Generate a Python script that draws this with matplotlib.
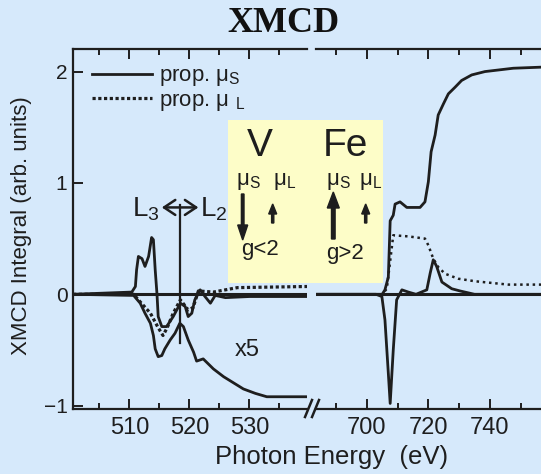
import numpy as np
import matplotlib
matplotlib.use("Agg")
import matplotlib.pyplot as plt
from matplotlib.patches import Rectangle, FancyArrow
from matplotlib.lines import Line2D

plt.rcParams['font.family'] = ['Liberation Sans', 'DejaVu Sans']
plt.rcParams['mathtext.fontset'] = 'custom'
plt.rcParams['mathtext.rm'] = 'Liberation Sans'
plt.rcParams['mathtext.it'] = 'Liberation Sans:italic'
plt.rcParams['mathtext.bf'] = 'Liberation Sans:bold'

# V L-edge (x5), left part of the broken axis
v_e_spec = [500.6, 510.4, 511.0, 511.2, 511.5, 512.1, 512.6, 513.2, 513.7, 514.0, 514.3, 514.6,
            514.8, 515.4, 516.2, 517.3, 518.5, 519.3, 519.8, 520.4, 520.9, 521.8, 522.6, 523.5,
            524.3, 526.0, 530.0, 539.6]
v_spec = [0, 0.02, 0.07, 0.22, 0.34, 0.32, 0.25, 0.34, 0.51, 0.49, 0.22, 0.0,
          -0.2, -0.29, -0.29, -0.2, -0.08, -0.11, -0.2, -0.17, -0.05, 0.04, -0.02, -0.08,
          -0.01, -0.03, -0.02, -0.02]

v_e_int = [500.6, 510.7, 511.8, 512.6, 513.5, 514.0, 514.3, 514.8, 515.4, 515.9, 516.8, 517.6,
           518.4, 519.0, 519.8, 520.7, 521.2, 522.3, 524.0, 525.7, 527.5, 529.0, 531.0, 532.9, 539.6]
v_int = [0, -0.01, -0.08, -0.17, -0.26, -0.37, -0.49, -0.56, -0.55, -0.49, -0.41, -0.35,
         -0.26, -0.29, -0.41, -0.52, -0.60, -0.58, -0.67, -0.74, -0.80, -0.85, -0.89, -0.92, -0.92]

v_e_orb = [500.6, 510.7, 511.5, 513.5, 514.8, 515.6, 516.3, 517.3, 518.5, 519.8, 520.6, 521.5,
           524.0, 528.0, 539.6]
v_orb = [0, 0, -0.05, -0.17, -0.3, -0.37, -0.3, -0.17, -0.05, -0.14, -0.12, 0.03,
         0.02, 0.06, 0.07]

# Fe L-edge, right part of the broken axis
fe_e_step = [684, 700, 705, 705.9, 707.0, 707.6, 708.6, 709.2, 710.8, 713.0, 717.3, 718.9, 720.0,
             720.9, 722.2, 723.2, 724.9, 726.5, 728.7, 730.8, 734.1, 738.4, 747.6, 757]
fe_step = [0, 0, 0, 0.04, 0.155, 0.66, 0.71, 0.81, 0.83, 0.78, 0.78, 0.83, 1.01,
           1.28, 1.43, 1.61, 1.71, 1.80, 1.86, 1.92, 1.97, 2.00, 2.03, 2.04]

fe_e_spec = [684, 703, 704.9, 705.9, 707.0, 707.6, 708.6, 709.7, 711.4, 713.5, 716, 719.5, 720.6,
             721.6, 722.7, 724.4, 727.6, 730.3, 735, 757]
fe_spec = [0, 0, -0.02, -0.23, -0.71, -0.98, -0.5, -0.05, 0.04, 0.02, 0.0, 0.04, 0.19,
           0.31, 0.25, 0.11, 0.05, 0.03, 0.0, 0.0]

fe_e_orb = [684, 705, 706.5, 707.6, 708.6, 713.5, 718.9, 720, 721.6, 723.2, 725.4, 729.7, 735.2,
            746, 757]
fe_orb = [0, 0, 0.05, 0.3, 0.53, 0.52, 0.50, 0.44, 0.32, 0.245, 0.185, 0.14, 0.117, 0.087, 0.087]

bg = '#d6e9fb'
ink = '#1e1e1e'
W, H = 541, 474

fig = plt.figure(figsize=(W / 100, H / 100), dpi=100, facecolor=bg)

def px(x0, y0, x1, y1):
    # image pixel box -> figure fraction rect
    return [x0 / W, 1 - y1 / H, (x1 - x0) / W, (y1 - y0) / H]

ax1 = fig.add_axes(px(73, 49.3, 307, 409))
ax2 = fig.add_axes(px(316, 49.3, 541, 409))
ylim = (-1.03, 2.2)

for ax in (ax1, ax2):
    ax.set_facecolor(bg)
    ax.set_ylim(*ylim)
    ax.axhline(0, color=ink, lw=2.2, zorder=1)
    for s in ax.spines.values():
        s.set_linewidth(1.6)
        s.set_color(ink)
    ax.tick_params(which='both', direction='in', top=True, colors=ink, width=1.4)
    ax.tick_params(which='major', length=7)
    ax.tick_params(which='minor', length=4)
    ax.tick_params(axis='x', labelsize=17, pad=6)

ax1.set_xlim(500.6, 539.6)
ax1.set_xticks([510, 520, 530])
ax1.set_xticks([505, 515, 525, 535], minor=True)
ax1.set_yticks([-1, 0, 1, 2])
ax1.tick_params(axis='y', labelsize=15, pad=4, right=False)
ax1.spines['right'].set_visible(False)

ax2.set_xlim(683.5, 756.6)
ax2.set_xticks([700, 720, 740])
ax2.set_xticks([690, 710, 730, 750], minor=True)
ax2.tick_params(axis='y', left=False, right=False, labelleft=False)
ax2.spines['left'].set_visible(False)
ax2.spines['right'].set_visible(False)

# left (V) curves
ax1.plot(v_e_spec, v_spec, color=ink, lw=2.0)
ax1.plot(v_e_int, v_int, color=ink, lw=2.0, label='prop. μ$_\\mathrm{S}$')
ax1.plot(v_e_orb, v_orb, color=ink, lw=2.3, ls=(0, (1, 0.8)), label='prop. μ $_\\mathrm{L}$')

# right (Fe) curves
ax2.plot(fe_e_spec, fe_spec, color=ink, lw=2.0)
ax2.plot(fe_e_step, fe_step, color=ink, lw=2.0)
ax2.plot(fe_e_orb, fe_orb, color=ink, lw=1.8, ls=(0, (1, 1.5)))

leg = ax1.legend(loc='upper left', bbox_to_anchor=(0.08, 0.955), frameon=False,
                 fontsize=16, handlelength=2.7, handletextpad=0.35, labelspacing=0.05,
                 borderpad=0, borderaxespad=0)
for t in leg.get_texts():
    t.set_color(ink)

# L3 <-> L2 marker
ax1.plot([518.45, 518.45], [-0.44, 0.8], color=ink, lw=1.6)
ax1.annotate('', xy=(515.4, 0.78), xytext=(521.5, 0.78),
             arrowprops=dict(arrowstyle='<->,head_length=0.45,head_width=0.3',
                             color=ink, lw=1.8, mutation_scale=18,
                             shrinkA=0, shrinkB=0))
ax1.text(515.1, 0.76, 'L$_3$', fontsize=20, color=ink, ha='right', va='center')
ax1.text(521.7, 0.76, 'L$_2$', fontsize=20, color=ink, ha='left', va='center')
ax1.text(529.6, -0.5, 'x5', fontsize=17, color=ink, ha='center', va='center')

# broken-axis marks
for x0 in (305, 312):
    fig.add_artist(Line2D([x0 / W, (x0 + 7) / W], [1 - 417 / H, 1 - 400 / H],
                          color=ink, lw=1.8))

# yellow info box
fig.add_artist(Rectangle((228 / W, 1 - 283 / H), 155 / W, 163 / H,
                         facecolor='#fdfdc8', edgecolor='none', zorder=3))

def ftext(x, y, s, size, **kw):
    fig.text(x / W, 1 - y / H, s, fontsize=size, color=ink, ha='center', va='center',
             zorder=4, **kw)

ftext(260, 146, 'V', 28)
ftext(345, 146, 'Fe', 28)
ftext(248, 181, 'μ$_\\mathrm{S}$', 16)
ftext(285, 181, 'μ$_\\mathrm{L}$', 16)
ftext(338, 181, 'μ$_\\mathrm{S}$', 16)
ftext(371, 181, 'μ$_\\mathrm{L}$', 16)
ftext(260, 250, 'g<2', 16)
ftext(345, 253, 'g>2', 16)

def farrow(x, y0, y1, width, head, hlen):
    fig.add_artist(FancyArrow(
        x / W, 1 - y0 / H, 0, (y0 - y1) / H, width=width / W,
        head_width=head / W, head_length=hlen / H, length_includes_head=True,
        color=ink, zorder=4))

farrow(242.7, 194, 240, 2.6, 10, 15)
farrow(272.7, 223, 204, 2.2, 8, 10)
farrow(333.3, 239, 192, 3.6, 12, 16)
farrow(365.7, 223, 204, 2.2, 8, 10)

fig.text(22 / W, 1 - 226 / H, 'XMCD Integral (arb. units)', fontsize=16, color=ink,
         rotation=90, ha='center', va='center')
fig.text(332 / W, 1 - 457 / H, 'Photon Energy  (eV)', fontsize=18.5, color=ink,
         ha='center', va='center')
fig.text(283 / W, 1 - 24 / H, 'XMCD', fontsize=26, fontweight='bold', color='#111111',
         family=['Liberation Serif', 'DejaVu Serif'], ha='center', va='center')

fig.savefig('out.png', dpi=100, facecolor=bg)
